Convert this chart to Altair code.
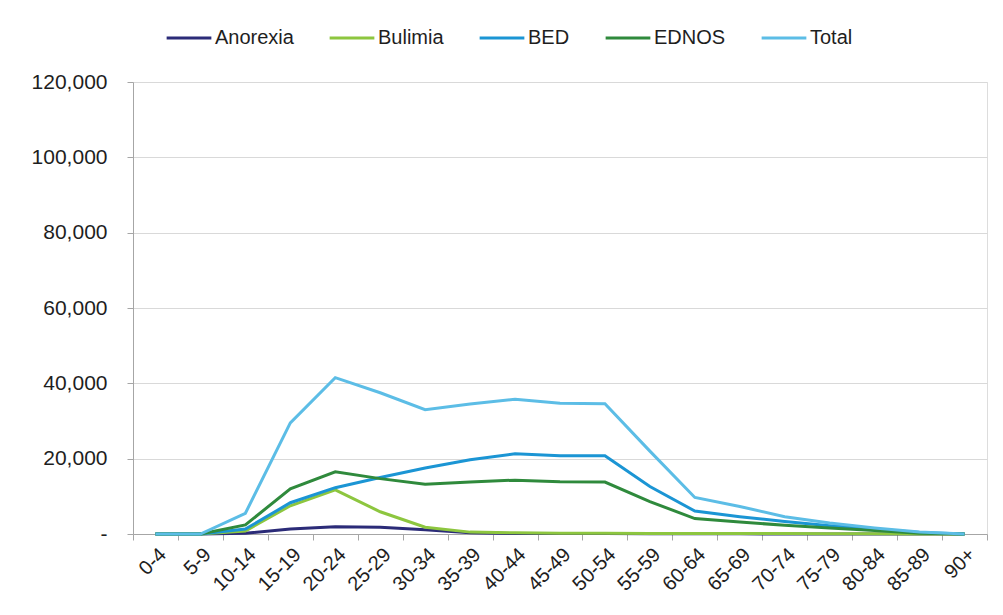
import altair as alt
import pandas as pd

ages = ["0-4", "5-9", "10-14", "15-19", "20-24", "25-29", "30-34", "35-39", "40-44",
        "45-49", "50-54", "55-59", "60-64", "65-69", "70-74", "75-79", "80-84", "85-89", "90+"]
series = ["Anorexia", "Bulimia", "BED", "EDNOS", "Total"]
anorexia = [0, 0, 200, 1300, 1900, 1800, 1100, 300, 100, 100, 100, 50, 50, 50, 0, 0, 0, 0, 0]
bulimia = [0, 0, 800, 7500, 11700, 5900, 1800, 500, 300, 200, 200, 150, 100, 100, 100, 50, 50, 0, 0]
bed = [0, 0, 1300, 8300, 12300, 15000, 17500, 19700, 21300, 20800, 20800, 12600, 6100, 4600, 3300, 2200, 1300, 400, 0]
ednos = [0, 0, 2400, 12000, 16500, 14700, 13200, 13800, 14300, 13900, 13800, 8600, 4100, 3200, 2300, 1600, 900, 200, 0]
total = [0, 0, 5500, 29500, 41500, 37500, 33000, 34500, 35800, 34700, 34600, 22000, 9700, 7300, 4600, 2900, 1600, 500, 0]
colors = ["#2b2b78", "#8dc63f", "#1b95d4", "#2f8a3c", "#5cbde6"]
y_ticks = [0, 20000, 40000, 60000, 80000, 100000, 120000]

rows = []
for name, vals in zip(series, [anorexia, bulimia, bed, ednos, total]):
    for a, v in zip(ages, vals):
        rows.append({"age": a, "series": name, "value": v})
df = pd.DataFrame(rows)

FONT = "Liberation Sans"
TXT = "#1e1e1e"

chart = alt.Chart(df).mark_line(strokeWidth=3).encode(
    x=alt.X("age:N", sort=ages, bandPosition=0.5,
            scale=alt.Scale(type="band", paddingInner=0, paddingOuter=0),
            axis=alt.Axis(title=None, labelAngle=-45, tickBand="extent", grid=False,
                          labelFontSize=20, labelColor=TXT, labelFont=FONT,
                          domainColor="#a6a6a6", tickColor="#a6a6a6", tickSize=6,
                          labelPadding=4)),
    y=alt.Y("value:Q", scale=alt.Scale(domain=[0, 120000], nice=False),
            axis=alt.Axis(title=None, values=y_ticks,
                          labelExpr="datum.value == 0 ? '-' : format(datum.value, ',')",
                          labelFontSize=21, labelColor=TXT, labelFont=FONT,
                          domainColor="#a6a6a6", tickColor="#a6a6a6", tickSize=6,
                          gridColor="#d9d9d9", labelPadding=20)),
    color=alt.Color("series:N", sort=series,
                    scale=alt.Scale(domain=series, range=colors),
                    legend=alt.Legend(title=None, orient="none", direction="horizontal",
                                      legendX=32, legendY=-68,
                                      symbolType="stroke", symbolSize=2000, symbolStrokeWidth=3,
                                      labelFontSize=20, labelFont=FONT, labelColor=TXT,
                                      labelOffset=2, columnPadding=29)),
).properties(
    width=854, height=452,
    autosize=alt.AutoSizeParams(type="none"),
    padding={"left": 125, "top": 74, "right": 8, "bottom": 70},
).configure_view(stroke=None).configure(background="white")

chart.save("out.html", embed_options={"renderer": "svg", "actions": False})
